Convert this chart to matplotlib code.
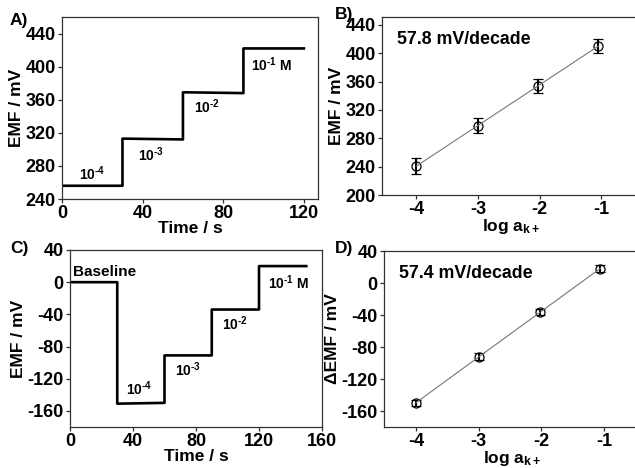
import matplotlib
matplotlib.use("Agg")
import matplotlib.pyplot as plt
import numpy as np

plt.rcParams['font.family'] = ['Liberation Sans', 'DejaVu Sans']
plt.rcParams['font.weight'] = 'bold'
plt.rcParams['axes.unicode_minus'] = False
plt.rcParams['mathtext.fontset'] = 'custom'
plt.rcParams['mathtext.rm'] = 'Liberation Sans:bold'
plt.rcParams['mathtext.it'] = 'Liberation Sans:bold'
plt.rcParams['mathtext.bf'] = 'Liberation Sans:bold'
plt.rcParams['mathtext.default'] = 'rm'

# A) EMF time trace
time_a = [0, 30, 30, 60, 60, 90, 90, 120]
emf_a = [256, 256, 313, 312, 369, 368, 422, 422]
conc_labels_a = ['10$^{\\text{-4}}$', '10$^{\\text{-3}}$', '10$^{\\text{-2}}$', '10$^{\\text{-1}}$ M']
conc_pos_a = [(15, 271), (44, 294), (72, 351), (104, 402)]

# B) calibration
log_a_b = [-4, -3, -2.02, -1.05]
emf_b = [241, 298, 354, 410]
err_b = [11, 10, 10, 10]

# C) delta EMF time trace
time_c = [0, 30, 30, 60, 60, 90, 90, 120, 120, 150]
emf_c = [0, 0, -151, -150, -91, -91, -34, -34, 20, 20]
conc_labels_c = ['Baseline', '10$^{\\text{-4}}$', '10$^{\\text{-3}}$', '10$^{\\text{-2}}$', '10$^{\\text{-1}}$ M']
conc_pos_c = [(2, 13), (44, -132), (75, -109), (105, -51), (139, -1)]

# D) calibration of delta EMF
log_a_d = [-4, -3, -2.02, -1.06]
emf_d = [-150, -92, -36, 18]
err_d = [4, 4, 4, 4]

W, H = 635, 468
fig = plt.figure(figsize=(W / 100, H / 100), dpi=100)


def box(left, right, top, bottom):
    return [left / W, (H - bottom) / H, (right - left) / W, (bottom - top) / H]


def style(ax):
    for s in ax.spines.values():
        s.set_color('#333333')
        s.set_linewidth(0.9)
    ax.tick_params(direction='out', length=3, width=0.9, labelsize=13,
                   color='#333333', pad=1.5)
    for lab in ax.get_xticklabels() + ax.get_yticklabels():
        lab.set_fontweight('bold')


axA = fig.add_axes(box(62, 318, 17, 199))
axA.plot(time_a, emf_a, color='black', lw=1.9)
for lab, (x, y) in zip(conc_labels_a, conc_pos_a):
    axA.text(x, y, lab, ha='center', va='center', fontsize=10, fontweight='bold')
axA.set_xlim(0, 127)
axA.set_ylim(240, 460)
axA.set_xticks([0, 40, 80, 120])
axA.set_yticks([240, 280, 320, 360, 400, 440])
axA.set_xlabel('Time / s', fontsize=12.5, fontweight='bold', labelpad=-1)
axA.set_ylabel('EMF / mV', fontsize=12.5, fontweight='bold', labelpad=1)
style(axA)

axB = fig.add_axes(box(382, 640, 17, 195))
fit_b = np.polyfit(log_a_b, emf_b, 1)
xb = np.array([log_a_b[0], log_a_b[-1]])
axB.plot(xb, np.polyval(fit_b, xb), color='#777777', lw=0.8, zorder=3)
axB.errorbar(log_a_b, emf_b, yerr=err_b, fmt='o', mfc='none', mec='black',
             ms=6.5, mew=0.9, ecolor='black', elinewidth=1.5, capsize=3.5,
             capthick=1.5, zorder=2)
axB.text(0.06, 0.875, '57.8 mV/decade', transform=axB.transAxes, fontsize=12.8,
         fontweight='bold', va='center')
axB.set_xlim(-4.56, -0.37)
axB.set_ylim(200, 451)
axB.set_xticks([-4, -3, -2, -1])
axB.set_yticks([200, 240, 280, 320, 360, 400, 440])
axB.set_xlabel('log a$_{k+}$', fontsize=12.5, fontweight='bold', labelpad=-1)
axB.set_ylabel('EMF / mV', fontsize=12.5, fontweight='bold', labelpad=1)
style(axB)

axC = fig.add_axes(box(70, 322, 250, 427))
axC.plot(time_c, emf_c, color='black', lw=1.9)
for i, (lab, (x, y)) in enumerate(zip(conc_labels_c, conc_pos_c)):
    axC.text(x, y, lab, ha='left' if i == 0 else 'center', va='center',
             fontsize=11 if i == 0 else 10, fontweight='bold')
axC.set_xlim(0, 160)
axC.set_ylim(-180, 40)
axC.set_xticks([0, 40, 80, 120, 160])
axC.set_yticks([-160, -120, -80, -40, 0, 40])
axC.set_xlabel('Time / s', fontsize=12.5, fontweight='bold', labelpad=-1)
axC.set_ylabel('EMF / mV', fontsize=12.5, fontweight='bold', labelpad=1)
style(axC)

axD = fig.add_axes(box(384, 640, 251, 427))
fit_d = np.polyfit(log_a_d, emf_d, 1)
xd = np.array([log_a_d[0], log_a_d[-1]])
axD.plot(xd, np.polyval(fit_d, xd), color='#777777', lw=0.8, zorder=3)
axD.errorbar(log_a_d, emf_d, yerr=err_d, fmt='o', mfc='none', mec='black',
             ms=6.5, mew=0.9, ecolor='black', elinewidth=1.5, capsize=3.5,
             capthick=1.5, zorder=2)
axD.text(0.06, 0.875, '57.4 mV/decade', transform=axD.transAxes, fontsize=12.8,
         fontweight='bold', va='center')
axD.set_xlim(-4.51, -0.43)
axD.set_ylim(-180, 40)
axD.set_xticks([-4, -3, -2, -1])
axD.set_yticks([-160, -120, -80, -40, 0, 40])
axD.set_xlabel('log a$_{k+}$', fontsize=12.5, fontweight='bold', labelpad=-1)
axD.set_ylabel('\u0394EMF / mV', fontsize=12.5, fontweight='bold', labelpad=1)
style(axD)

for lab, x, y in [('A)', 10, 20), ('B)', 335, 14), ('C)', 10, 249), ('D)', 335, 249)]:
    fig.text(x / W, 1 - y / H, lab, fontsize=12.5, fontweight='bold', va='center')

fig.savefig('out.png', dpi=100)
